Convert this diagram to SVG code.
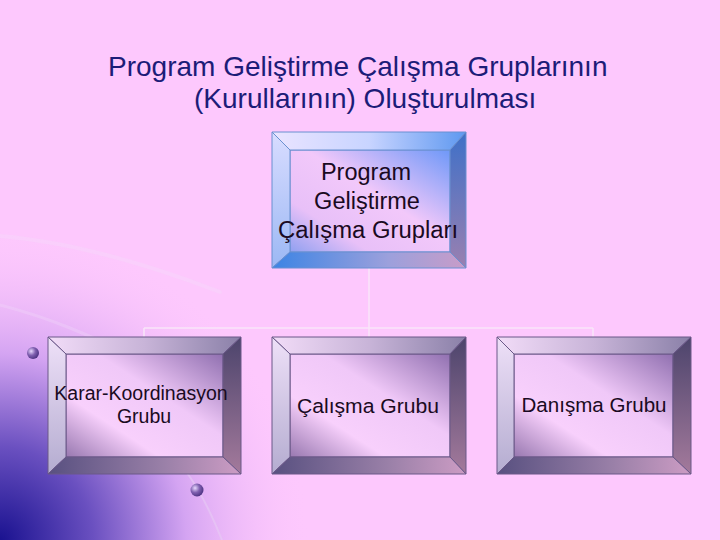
<svg xmlns="http://www.w3.org/2000/svg" width="720" height="540" viewBox="0 0 720 540">
<defs>
<radialGradient id="bgCorner" cx="0" cy="540" r="310" gradientUnits="userSpaceOnUse">
<stop offset="0" stop-color="#1a1290"/>
<stop offset="0.3" stop-color="#6a50c0"/>
<stop offset="0.6" stop-color="#d4a4f2"/>
<stop offset="1" stop-color="#fdc8fd" stop-opacity="0"/>
</radialGradient>
<radialGradient id="ball" cx="0.35" cy="0.35" r="0.7">
<stop offset="0" stop-color="#e8d8ff"/>
<stop offset="0.5" stop-color="#8060b0"/>
<stop offset="1" stop-color="#4a3080"/>
</radialGradient>
<linearGradient id="tTop" x1="0" y1="0" x2="1" y2="0">
<stop offset="0" stop-color="#eae4ff"/>
<stop offset="0.5" stop-color="#c8d4ff"/>
<stop offset="1" stop-color="#5e98f0"/>
</linearGradient>
<linearGradient id="tLeft" x1="0" y1="0" x2="0" y2="1">
<stop offset="0" stop-color="#d8dcff"/>
<stop offset="1" stop-color="#9cb8f4"/>
</linearGradient>
<linearGradient id="tRight" x1="0" y1="0" x2="0" y2="1">
<stop offset="0" stop-color="#3e70c8"/>
<stop offset="1" stop-color="#9a80b0"/>
</linearGradient>
<linearGradient id="tBottom" x1="0" y1="0" x2="1" y2="0">
<stop offset="0" stop-color="#3c84e4"/>
<stop offset="0.6" stop-color="#9ca0dc"/>
<stop offset="1" stop-color="#c89cc8"/>
</linearGradient>
<linearGradient id="tInner" x1="1" y1="0" x2="0" y2="1">
<stop offset="0" stop-color="#6e98f8"/>
<stop offset="0.45" stop-color="#f2c8fa"/>
<stop offset="0.75" stop-color="#e8c0f8"/>
<stop offset="1" stop-color="#90a0f0"/>
</linearGradient>
<linearGradient id="bTop" x1="0" y1="0" x2="1" y2="0">
<stop offset="0" stop-color="#f2dcf8"/>
<stop offset="0.5" stop-color="#c8b4d8"/>
<stop offset="1" stop-color="#8a80a8"/>
</linearGradient>
<linearGradient id="bLeft" x1="0" y1="0" x2="0" y2="1">
<stop offset="0" stop-color="#eee0f8"/>
<stop offset="1" stop-color="#b4acd0"/>
</linearGradient>
<linearGradient id="bRight" x1="0" y1="0" x2="0" y2="1">
<stop offset="0" stop-color="#4c446c"/>
<stop offset="1" stop-color="#a47a9c"/>
</linearGradient>
<linearGradient id="bBottom" x1="0" y1="0" x2="1" y2="0">
<stop offset="0" stop-color="#585080"/>
<stop offset="0.6" stop-color="#9a80a8"/>
<stop offset="1" stop-color="#cc9cc4"/>
</linearGradient>
<linearGradient id="bInner" x1="1" y1="0" x2="0" y2="1">
<stop offset="0" stop-color="#9070b0"/>
<stop offset="0.4" stop-color="#f0c8f8"/>
<stop offset="0.7" stop-color="#f8d0fc"/>
<stop offset="1" stop-color="#9878b0"/>
</linearGradient>
</defs>
<style>
.title{font-family:"Liberation Sans",Arial,sans-serif;font-size:28px;fill:#1c1c78}
.lbl{font-family:"Liberation Sans",Arial,sans-serif;fill:#1a0a22;text-anchor:middle}
.tb polygon,.tb rect{stroke:#6a90d0;stroke-width:1}
.bb polygon,.bb rect{stroke:#6a5888;stroke-width:1}
.conn{stroke:#f8e6f8;stroke-width:1.5;fill:none}
</style>
<rect x="0" y="0" width="720" height="540" fill="#fdc8fd"/>
<rect x="0" y="220" width="340" height="320" fill="url(#bgCorner)"/>
<g id="decor" fill="none" stroke-linecap="round">
<path d="M0,236 C70,242 150,265 220,292" stroke="#f4dcf8" stroke-width="4" opacity="0.35"/>
<path d="M0,305 C50,318 90,335 140,360" stroke="#f0d8f8" stroke-width="3" opacity="0.35"/>
<path d="M185,470 C200,490 212,515 222,540" stroke="#e8d0f4" stroke-width="2" opacity="0.5"/>
<circle cx="33" cy="353" r="6" fill="url(#ball)" stroke="none"/>
<circle cx="197" cy="490" r="6.5" fill="url(#ball)" stroke="none"/>
</g>
<g id="title">
<text class="title" x="108" y="76">Program Geliştirme Çalışma Gruplarının</text>
<text class="title" x="194" y="108">(Kurullarının) Oluşturulması</text>
</g>
<g id="connectors">
<line class="conn" x1="369" y1="268" x2="369" y2="328"/>
<line class="conn" x1="144" y1="328" x2="593" y2="328"/>
<line class="conn" x1="144" y1="328" x2="144" y2="337"/>
<line class="conn" x1="369" y1="328" x2="369" y2="337"/>
<line class="conn" x1="593" y1="328" x2="593" y2="337"/>
</g>
<g id="node-top" class="tb">
<rect x="290" y="150" width="160" height="102" fill="url(#tInner)"/>
<polygon points="272,132 466,132 450,150 290,150" fill="url(#tTop)"/>
<polygon points="272,132 290,150 290,252 272,268" fill="url(#tLeft)"/>
<polygon points="466,132 466,268 450,252 450,150" fill="url(#tRight)"/>
<polygon points="272,268 290,252 450,252 466,268" fill="url(#tBottom)"/>
<text class="lbl" x="366" y="180" font-size="23.5">Program</text>
<text class="lbl" x="367" y="209" font-size="23.5">Geliştirme</text>
<text class="lbl" x="368" y="238" font-size="23.5" textLength="180" lengthAdjust="spacingAndGlyphs">Çalışma Grupları</text>
</g>
<g id="node-karar" class="bb">
<rect x="66" y="354" width="157" height="103" fill="url(#bInner)"/>
<polygon points="48,337 241,337 223,354 66,354" fill="url(#bTop)"/>
<polygon points="48,337 66,354 66,457 48,474" fill="url(#bLeft)"/>
<polygon points="241,337 241,474 223,457 223,354" fill="url(#bRight)"/>
<polygon points="48,474 66,457 223,457 241,474" fill="url(#bBottom)"/>
<text class="lbl" x="141" y="400" font-size="19.5">Karar-Koordinasyon</text>
<text class="lbl" x="144" y="423" font-size="19.5">Grubu</text>
</g>
<g id="node-calisma" class="bb">
<rect x="290" y="354" width="160" height="103" fill="url(#bInner)"/>
<polygon points="272,337 466,337 450,354 290,354" fill="url(#bTop)"/>
<polygon points="272,337 290,354 290,457 272,474" fill="url(#bLeft)"/>
<polygon points="466,337 466,474 450,457 450,354" fill="url(#bRight)"/>
<polygon points="272,474 290,457 450,457 466,474" fill="url(#bBottom)"/>
<text class="lbl" x="368" y="413" font-size="20.5" textLength="142" lengthAdjust="spacingAndGlyphs">Çalışma Grubu</text>
</g>
<g id="node-danisma" class="bb">
<rect x="514" y="354" width="159" height="103" fill="url(#bInner)"/>
<polygon points="497,337 691,337 673,354 514,354" fill="url(#bTop)"/>
<polygon points="497,337 514,354 514,457 497,474" fill="url(#bLeft)"/>
<polygon points="691,337 691,474 673,457 673,354" fill="url(#bRight)"/>
<polygon points="497,474 514,457 673,457 691,474" fill="url(#bBottom)"/>
<text class="lbl" x="594" y="412" font-size="20.5" textLength="145" lengthAdjust="spacingAndGlyphs">Danışma Grubu</text>
</g>
</svg>
